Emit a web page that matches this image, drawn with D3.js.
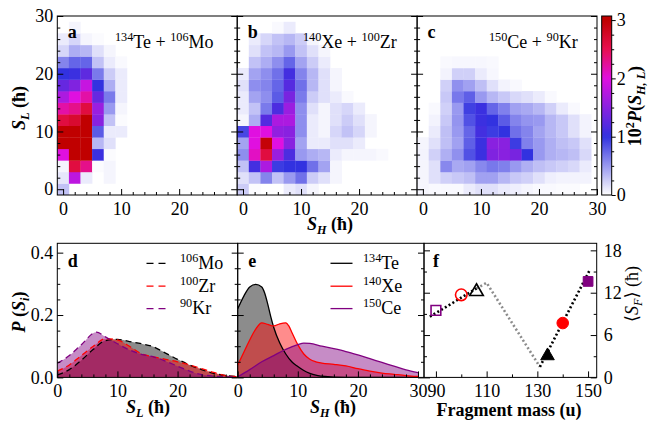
<!DOCTYPE html>
<html>
<head>
<meta charset="utf-8">
<script src="https://cdn.jsdelivr.net/npm/d3@7"></script>
<style>
  body { margin: 0; background: #fff; }
  svg { display: block; }
  svg text { font-family: "Liberation Serif", "Times New Roman", Times, "DejaVu Serif", serif; }
</style>
</head>
<body>
<svg id="chart" width="649" height="421"></svg>
<script>
// ---------------- data ----------------
// Spin bins (ħ): centres 0,2,...,28, each 2ħ wide. Rows = S_L bin, columns = S_H bin.
const spinBins = d3.range(0, 30, 2);

// 10^2 P(S_H, S_L) for 134Te + 106Mo
const heatTeMo = [
  [0.30, 0, 0, 0, 0, 0, 0, 0, 0, 0, 0, 0, 0, 0, 0],
  [0.12, 1.80, 0.10, 0, 0.05, 0, 0, 0, 0, 0, 0, 0, 0, 0, 0],
  [0.05, 2.60, 2.30, 0.02, 0.05, 0, 0, 0, 0, 0, 0, 0, 0, 0, 0],
  [2.00, 3.00, 3.00, 1.05, 0.02, 0, 0, 0, 0, 0, 0, 0, 0, 0, 0],
  [3.00, 3.00, 3.00, 0.35, 0.15, 0, 0, 0, 0, 0, 0, 0, 0, 0, 0],
  [3.00, 3.00, 3.00, 0.80, 0.10, 0.10, 0, 0, 0, 0, 0, 0, 0, 0, 0],
  [2.60, 2.70, 3.00, 1.50, 0.30, 0.02, 0, 0, 0, 0, 0, 0, 0, 0, 0],
  [2.20, 2.30, 2.60, 1.60, 0.50, 0.05, 0, 0, 0, 0, 0, 0, 0, 0, 0],
  [1.70, 2.00, 2.20, 1.30, 0.65, 0.10, 0, 0, 0, 0, 0, 0, 0, 0, 0],
  [1.30, 1.45, 1.85, 1.00, 0.40, 0.10, 0, 0, 0, 0, 0, 0, 0, 0, 0],
  [1.00, 1.05, 1.25, 0.65, 0.25, 0.10, 0, 0, 0, 0, 0, 0, 0, 0, 0],
  [0.60, 0.75, 0.75, 0.30, 0.10, 0.03, 0, 0, 0, 0, 0, 0, 0, 0, 0],
  [0.20, 0.40, 0.35, 0.15, 0.05, 0, 0, 0, 0, 0, 0, 0, 0, 0, 0],
  [0.10, 0.20, 0.05, 0.02, 0, 0, 0, 0, 0, 0, 0, 0, 0, 0, 0],
  [0, 0.05, 0, 0, 0, 0, 0, 0, 0, 0, 0, 0, 0, 0, 0]
];

// 10^2 P(S_H, S_L) for 140Xe + 100Zr
const heatXeZr = [
  [0.25, 0.02, 0, 0, 0.10, 0.15, 0.05, 0, 0, 0, 0, 0, 0, 0, 0],
  [0.15, 0.30, 0.60, 0.30, 0.50, 0.70, 0.25, 0.15, 0.05, 0, 0, 0, 0, 0, 0],
  [0.30, 1.10, 1.70, 0.95, 1.00, 1.00, 0.70, 0.45, 0.05, 0, 0, 0, 0, 0, 0],
  [0.55, 2.10, 2.60, 1.60, 1.15, 0.50, 0.40, 0.35, 0.10, 0.05, 0.05, 0.05, 0.03, 0, 0],
  [0.45, 2.00, 2.95, 2.00, 1.50, 0.45, 0.10, 0.10, 0.15, 0.15, 0.10, 0, 0, 0, 0],
  [0.90, 2.00, 2.00, 1.55, 1.50, 0.55, 0.10, 0.05, 0.20, 0.30, 0.20, 0.05, 0, 0, 0],
  [0.05, 0.40, 1.20, 1.70, 1.70, 0.55, 0.10, 0.05, 0.15, 0.25, 0.15, 0.05, 0, 0, 0],
  [0.10, 0.30, 0.65, 1.15, 1.60, 0.55, 0.15, 0.05, 0.15, 0.20, 0.10, 0, 0, 0, 0],
  [0.10, 0.45, 0.55, 0.80, 1.40, 0.65, 0.25, 0.15, 0.10, 0.03, 0, 0, 0, 0, 0],
  [0.15, 0.55, 0.60, 0.75, 1.20, 0.70, 0.35, 0.15, 0.05, 0, 0, 0, 0, 0, 0],
  [0.10, 0.45, 0.55, 0.70, 1.10, 0.60, 0.35, 0.15, 0.05, 0, 0, 0, 0, 0, 0],
  [0, 0.30, 0.40, 0.55, 0.75, 0.45, 0.25, 0.10, 0, 0, 0, 0, 0, 0, 0],
  [0, 0.15, 0.30, 0.35, 0.50, 0.30, 0.15, 0.05, 0, 0, 0, 0, 0, 0, 0],
  [0, 0.10, 0.20, 0.30, 0.35, 0.25, 0.05, 0, 0, 0, 0, 0, 0, 0, 0],
  [0, 0, 0, 0.03, 0.10, 0, 0, 0, 0, 0, 0, 0, 0, 0, 0]
];

// 10^2 P(S_H, S_L) for 150Ce + 90Kr
const heatCeKr = [
  [0.05, 0.03, 0.03, 0.03, 0.10, 0.15, 0.15, 0.10, 0.08, 0.05, 0.03, 0.03, 0.02, 0.02, 0],
  [0.05, 0.15, 0.23, 0.27, 0.31, 0.46, 0.46, 0.35, 0.27, 0.23, 0.15, 0.08, 0.06, 0.06, 0.06],
  [0.05, 0.15, 0.58, 0.42, 0.46, 0.58, 0.66, 0.62, 0.50, 0.39, 0.31, 0.27, 0.23, 0.19, 0.10],
  [0.06, 0.23, 0.39, 0.54, 0.85, 1.05, 1.45, 1.50, 1.40, 1.00, 0.50, 0.39, 0.35, 0.31, 0.19],
  [0.05, 0.15, 0.31, 0.46, 0.78, 1.05, 1.50, 1.50, 0.95, 0.62, 0.50, 0.39, 0.31, 0.27, 0.15],
  [0, 0.10, 0.31, 0.50, 0.75, 1.10, 0.95, 1.00, 0.70, 0.60, 0.45, 0.35, 0.27, 0.15, 0.06],
  [0, 0.06, 0.27, 0.52, 0.85, 1.05, 1.00, 0.80, 0.60, 0.52, 0.50, 0.35, 0.27, 0.15, 0.06],
  [0, 0.03, 0.23, 0.50, 0.93, 1.05, 0.75, 0.62, 0.46, 0.42, 0.35, 0.23, 0.10, 0.03, 0],
  [0, 0, 0.27, 0.66, 0.78, 0.50, 0.35, 0.27, 0.19, 0.15, 0.10, 0.03, 0, 0, 0],
  [0, 0, 0.23, 0.54, 0.46, 0.31, 0.15, 0.06, 0.03, 0, 0, 0, 0, 0, 0],
  [0, 0, 0.06, 0.23, 0.23, 0.10, 0.04, 0, 0, 0, 0, 0, 0, 0, 0],
  [0, 0, 0.03, 0.04, 0.04, 0.04, 0.03, 0, 0, 0, 0, 0, 0, 0, 0],
  [0, 0, 0, 0, 0, 0, 0, 0, 0, 0, 0, 0, 0, 0, 0],
  [0, 0, 0, 0, 0, 0, 0, 0, 0, 0, 0, 0, 0, 0, 0],
  [0, 0, 0, 0, 0, 0, 0, 0, 0, 0, 0, 0, 0, 0, 0]
];

const heatLetters = ["a", "b", "c"];
const heavyNames = [["134", "Te"], ["140", "Xe"], ["150", "Ce"]];
const lightNames = [["106", "Mo"], ["100", "Zr"], ["90", "Kr"]];

// Colour bar of 10^2 P
const colorStops = [0, 1, 2, 2.5, 3];
const colorHex = ["#ffffff", "#3232e0", "#e010e0", "#e81050", "#c00000"];
const colorTicks = [0, 1, 2, 3];

// Panel d: light-fragment spin distributions P(S_L)
const sMo = [0, 2, 4, 6, 8, 10, 12, 14, 16, 18, 20, 22, 24, 26, 28, 30];
const pMo = [0.008, 0.025, 0.055, 0.09, 0.118, 0.122, 0.115, 0.108, 0.098, 0.078, 0.058, 0.04, 0.025, 0.013, 0.006, 0.003];
const sZr = [0, 2, 4, 6, 8, 10, 12, 14, 16, 18, 20, 22, 24, 26, 28, 30];
const pZr = [0.02, 0.04, 0.07, 0.1, 0.124, 0.12, 0.1, 0.076, 0.066, 0.058, 0.05, 0.04, 0.028, 0.016, 0.006, 0.002];
const sKr = [0, 2, 4, 6.5, 8, 10, 12, 14, 16, 18, 20, 22, 24, 26, 28, 30];
const pKr = [0.045, 0.07, 0.105, 0.145, 0.13, 0.108, 0.088, 0.074, 0.066, 0.052, 0.036, 0.02, 0.009, 0.004, 0.002, 0.001];

// Panel e: heavy-fragment spin distributions P(S_H)
const sTe = [0, 1, 2, 3, 4, 4.5, 5, 5.5, 6, 7, 8, 9, 10, 11, 12, 13, 14, 16, 20, 30];
const pTe = [0.22, 0.26, 0.29, 0.298, 0.29, 0.27, 0.235, 0.195, 0.16, 0.11, 0.075, 0.05, 0.035, 0.022, 0.013, 0.007, 0.004, 0.001, 0, 0];
const sXe = [0, 1, 2, 3, 4, 5, 6, 7, 8, 8.5, 9, 10, 11, 12, 13, 14, 16, 18, 20, 22, 24, 26, 28, 30];
const pXe = [0.04, 0.08, 0.12, 0.155, 0.175, 0.17, 0.165, 0.172, 0.175, 0.165, 0.145, 0.105, 0.075, 0.058, 0.05, 0.046, 0.042, 0.037, 0.028, 0.02, 0.014, 0.01, 0.006, 0.003];
const sCe = [0, 2, 4, 6, 8, 10, 11, 12, 14, 16, 18, 20, 22, 24, 26, 28, 30];
const pCe = [0.002, 0.025, 0.05, 0.07, 0.09, 0.105, 0.11, 0.109, 0.1, 0.092, 0.083, 0.072, 0.06, 0.048, 0.036, 0.024, 0.015];

// Panel f: mean fragment spin vs fragment mass
const fragMass = [90, 100, 106, 134, 140, 150];
const meanSpin = [9.5, 11.7, 12.3, 3.2, 7.7, 13.6];
const fragShape = ["square", "circle", "triangle", "triangle", "circle", "square"];
const fragColor = ["#800080", "#ff0000", "#000000", "#000000", "#ff0000", "#800080"];
const fragFilled = [false, false, false, true, true, true];
const lightFitMass = [87.6, 106];
const lightFitSpin = [8.6, 12.6];
const sawMass = [106, 110, 131];
const sawSpin = [12.6, 13.4, 1.5];
const heavyFitMass = [131, 150.8];
const heavyFitSpin = [1.5, 15.3];

// ---------------- drawing helpers ----------------
const svg = d3.select("#chart");
const FS = 18;

function richText(parent, x, y, parts, opts = {}) {
  const size = opts.size || FS;
  const t = parent.append("text")
    .attr("x", x).attr("y", y)
    .attr("font-size", size)
    .attr("text-anchor", opts.anchor || "start")
    .attr("font-weight", opts.weight || "normal")
    .attr("fill", opts.fill || "#000");
  if (opts.rotate) t.attr("transform", `rotate(${opts.rotate},${x},${y})`);
  let shift = 0;
  parts.forEach(p => {
    const txt = typeof p === "string" ? p : p[0];
    const kind = typeof p === "string" ? "" : p[1];
    let target = 0, fs = size;
    if (kind.includes("sup")) { target = -size * 0.38; fs = size * 0.68; }
    if (kind.includes("sub")) { target = size * 0.24; fs = size * 0.68; }
    const ts = t.append("tspan").attr("dy", target - shift).attr("font-size", fs).text(txt);
    if (kind.includes("it")) ts.attr("font-style", "italic");
    shift = target;
  });
  return t;
}

function styleAxis(g) {
  g.attr("font-family", null).attr("font-size", null);
  g.select(".domain").remove();
  g.selectAll(".tick line").attr("stroke", "#000").attr("stroke-width", 1);
  g.selectAll(".tick text").attr("font-size", FS).attr("fill", "#000");
  return g;
}

// draws major+minor inward ticks on one side of a panel
function sideTicks(g, side, scale, majors, minors, transform, fmt, pad) {
  const mk = { bottom: d3.axisBottom, left: d3.axisLeft, right: d3.axisRight, top: d3.axisTop }[side];
  g.append("g").attr("transform", transform)
    .call(mk(scale).tickValues(minors).tickSize(-3).tickFormat(""))
    .call(styleAxis);
  g.append("g").attr("transform", transform)
    .call(mk(scale).tickValues(majors).tickSize(-6).tickPadding(pad || 6).tickFormat(fmt || (() => "")))
    .call(styleAxis);
}

const heatColor = d3.scaleLinear().domain(colorStops).range(colorHex).clamp(true);

// ---------------- top row: 2D spin maps ----------------
const topY0 = 16, topY1 = 195, panelW = 179.9;
const topLefts = [57.3, 237.2, 417.1];
const heatGrids = [heatTeMo, heatXeZr, heatCeKr];
const titleX = [115, 303, 489];
const yTop = d3.scaleLinear().domain([-1, 30]).range([topY1, topY0]);
const spinMinor = d3.range(2, 30, 2).filter(v => v % 10 !== 0);

heatGrids.forEach((grid, k) => {
  const x0 = topLefts[k];
  const x = d3.scaleLinear().domain([-1, 30]).range([x0, x0 + panelW]);
  const g = svg.append("g");
  const clipId = "clipTop" + k;
  svg.append("clipPath").attr("id", clipId).append("rect")
    .attr("x", x0).attr("y", topY0).attr("width", panelW).attr("height", topY1 - topY0);

  const cells = [];
  grid.forEach((row, r) => row.forEach((v, c) => { if (v > 0.005) cells.push({ sl: spinBins[r], sh: spinBins[c], v }); }));
  g.append("g").attr("clip-path", `url(#${clipId})`)
    .selectAll("rect").data(cells).join("rect")
    .attr("x", d => x(d.sh - 1))
    .attr("y", d => yTop(d.sl + 1))
    .attr("width", d => x(d.sh + 1) - x(d.sh - 1) + 0.3)
    .attr("height", d => yTop(d.sl - 1) - yTop(d.sl + 1) + 0.3)
    .attr("fill", d => heatColor(d.v));

  const xMaj = k === 2 ? [0, 10, 20, 30] : [0, 10, 20];
  sideTicks(g, "bottom", x, xMaj, spinMinor, `translate(0,${topY1})`, d3.format("d"), 7);
  sideTicks(g, "left", yTop, [0, 10, 20, 30], spinMinor, `translate(${x0},0)`, k === 0 ? d3.format("d") : null, 4);
  sideTicks(g, "right", yTop, [0, 10, 20, 30], spinMinor, `translate(${x0 + panelW},0)`, null);

  g.append("rect").attr("x", x0).attr("y", topY0).attr("width", panelW).attr("height", topY1 - topY0)
    .attr("fill", "none").attr("stroke", "#000").attr("stroke-width", 1);

  richText(g, x0 + 10.5, 38, [heatLetters[k]], { weight: "bold" });
  richText(g, titleX[k], 47.7, [[heavyNames[k][0], "sup"], heavyNames[k][1] + " + ", [lightNames[k][0], "sup"], lightNames[k][1]]);
});

// axis titles of the top row
richText(svg, 25, 108, [["S", "it"], ["L", "subit"], " (ħ)"], { weight: "bold", anchor: "middle", rotate: -90 });
richText(svg, 330, 230, [["S", "it"], ["H", "subit"], " (ħ)"], { weight: "bold", anchor: "middle" });

// colour bar
{
  const cbX = 601.7, cbW = 10, cbMax = 3.07;
  const cbY = d3.scaleLinear().domain([0, cbMax]).range([topY1, topY0]);
  const grad = svg.append("defs").append("linearGradient").attr("id", "cbGrad")
    .attr("x1", 0).attr("y1", 1).attr("x2", 0).attr("y2", 0);
  d3.range(0, 1.0001, 0.02).forEach(f => {
    grad.append("stop").attr("offset", f).attr("stop-color", heatColor(f * cbMax));
  });
  svg.append("rect").attr("x", cbX).attr("y", topY0).attr("width", cbW).attr("height", topY1 - topY0)
    .attr("fill", "url(#cbGrad)").attr("stroke", "#000").attr("stroke-width", 1);
  svg.append("g").attr("transform", `translate(${cbX + cbW},0)`)
    .call(d3.axisRight(cbY).tickValues(d3.range(0.25, 3.01, 0.25).filter(v => v % 1 !== 0)).tickSize(2.5).tickFormat(""))
    .call(styleAxis);
  svg.append("g").attr("transform", `translate(${cbX + cbW},0)`)
    .call(d3.axisRight(cbY).tickValues(colorTicks).tickSize(4).tickPadding(1).tickFormat(d3.format("d")))
    .call(styleAxis);
  richText(svg, 641, 106, ["10", ["2", "sup"], ["P", "it"], "(", ["S", "it"], ["H, L", "subit"], ")"], { weight: "bold", anchor: "middle", rotate: -90 });
}

// ---------------- bottom row ----------------
const botY0 = 243.3, botY1 = 377.4;
const pY = d3.scaleLinear().domain([0, 0.43]).range([botY1, botY0]);
const pMajor = [0, 0.2, 0.4];
const pMinor = d3.range(0.05, 0.43, 0.05).filter(v => Math.abs(v - 0.2) > 1e-6 && Math.abs(v - 0.4) > 1e-6);

function distPanel(x0, x1, xDomain, series, dashed, letter, xMaj, showY, legendX) {
  const x = d3.scaleLinear().domain(xDomain).range([x0, x1]);
  const g = svg.append("g");
  const clipId = "clip" + letter;
  svg.append("clipPath").attr("id", clipId).append("rect")
    .attr("x", x0).attr("y", botY0).attr("width", x1 - x0).attr("height", botY1 - botY0);
  const body = g.append("g").attr("clip-path", `url(#${clipId})`);
  const area = d3.area().x(d => x(d[0])).y0(pY(0)).y1(d => pY(d[1])).curve(d3.curveMonotoneX);
  const line = d3.line().x(d => x(d[0])).y(d => pY(d[1])).curve(d3.curveMonotoneX);
  series.forEach(s => {
    const pts = s.s.map((v, i) => [v, s.p[i]]);
    body.append("path").attr("d", area(pts)).attr("fill", s.color).attr("fill-opacity", 0.45);
  });
  series.forEach(s => {
    const pts = s.s.map((v, i) => [v, s.p[i]]);
    body.append("path").attr("d", line(pts)).attr("fill", "none").attr("stroke", s.color)
      .attr("stroke-width", 1.3).attr("stroke-dasharray", dashed ? "6,4" : null);
  });
  sideTicks(g, "bottom", x, xMaj, d3.range(2, 31, 2).filter(v => v % 10 !== 0), `translate(0,${botY1})`, d3.format("d"), 7);
  sideTicks(g, "left", pY, pMajor, pMinor, `translate(${x0},0)`, showY ? d3.format(".1f") : null, 4);
  sideTicks(g, "right", pY, pMajor, pMinor, `translate(${x1},0)`, null);
  g.append("rect").attr("x", x0).attr("y", botY0).attr("width", x1 - x0).attr("height", botY1 - botY0)
    .attr("fill", "none").attr("stroke", "#000");
  richText(g, x0 + 10.5, 266.5, [letter], { weight: "bold" });
  // legend
  const lyLine = [263.3, 286.2, 308.6];
  series.forEach((s, i) => {
    g.append("line").attr("x1", legendX).attr("x2", legendX + 22)
      .attr("y1", lyLine[i]).attr("y2", lyLine[i])
      .attr("stroke", s.color).attr("stroke-width", 1.3).attr("stroke-dasharray", dashed ? "7,5" : null);
    richText(g, legendX + (dashed ? 33.5 : 32.5), lyLine[i] + 5.5, [[s.name[0], "sup"], s.name[1]]);
  });
}

distPanel(57.3, 237.7, [0, 30], [
  { s: sMo, p: pMo, color: "#000000", name: ["106", "Mo"] },
  { s: sZr, p: pZr, color: "#ff0000", name: ["100", "Zr"] },
  { s: sKr, p: pKr, color: "#800080", name: ["90", "Kr"] }
], true, "d", [0, 10, 20], true, 146.5);

distPanel(237.7, 424, [0, 31], [
  { s: sTe, p: pTe, color: "#000000", name: ["134", "Te"] },
  { s: sXe, p: pXe, color: "#ff0000", name: ["140", "Xe"] },
  { s: sCe, p: pCe, color: "#800080", name: ["150", "Ce"] }
], false, "e", [0, 10, 20, 30], false, 330.5);

richText(svg, 25, 312, [["P", "it"], " (", ["S", "it"], ["i", "subit"], ")"], { weight: "bold", anchor: "middle", rotate: -90 });
richText(svg, 148, 413, [["S", "it"], ["L", "subit"], " (ħ)"], { weight: "bold", anchor: "middle" });
richText(svg, 333, 413, [["S", "it"], ["H", "subit"], " (ħ)"], { weight: "bold", anchor: "middle" });

// panel f
{
  const x0 = 424, x1 = 596.7;
  const x = d3.scaleLinear().domain([85.3, 153.4]).range([x0, x1]);
  const y = d3.scaleLinear().domain([0, 19]).range([botY1, botY0]);
  const g = svg.append("g");
  const line = d3.line().x(d => x(d[0])).y(d => y(d[1]));
  const dotted = (ms, ss, col) => g.append("path")
    .attr("d", line(ms.map((m, i) => [m, ss[i]])))
    .attr("fill", "none").attr("stroke", col).attr("stroke-width", 2.6).attr("stroke-dasharray", "2,2.4");
  dotted(sawMass, sawSpin, "#8c8c8c");
  dotted(lightFitMass, lightFitSpin, "#000");
  dotted(heavyFitMass, heavyFitSpin, "#000");

  const sym = { square: d3.symbolSquare, circle: d3.symbolCircle, triangle: d3.symbolTriangle };
  const size = { square: 95, circle: 105, triangle: 80 };
  fragMass.forEach((m, i) => {
    const shp = fragShape[i];
    g.append("path")
      .attr("d", d3.symbol().type(sym[shp]).size(size[shp])())
      .attr("transform", `translate(${x(m)},${y(meanSpin[i]) + (shp === "triangle" ? 1 : 0)})`)
      .attr("fill", fragFilled[i] ? fragColor[i] : "none")
      .attr("stroke", fragColor[i]).attr("stroke-width", fragFilled[i] ? 1 : 1.6);
  });

  sideTicks(g, "bottom", x, [90, 110, 130, 150], [100, 120, 140], `translate(0,${botY1})`, d3.format("d"), 7);
  sideTicks(g, "left", y, [0, 6, 12, 18], [3, 9, 15], `translate(${x0},0)`, null);
  sideTicks(g, "right", y, [0, 6, 12, 18], [3, 9, 15], `translate(${x1},0)`, d3.format("d"), 7);
  g.append("rect").attr("x", x0).attr("y", botY0).attr("width", x1 - x0).attr("height", botY1 - botY0)
    .attr("fill", "none").attr("stroke", "#000");
  richText(g, x0 + 9, 266.5, ["f"], { weight: "bold" });
  richText(svg, 509, 416, ["Fragment mass (u)"], { weight: "bold", anchor: "middle" });
  richText(svg, 638, 294, ["⟨", ["S", "it"], ["F", "subit"], "⟩ (ħ)"], { anchor: "middle", rotate: -90 });
}
</script>
</body>
</html>
